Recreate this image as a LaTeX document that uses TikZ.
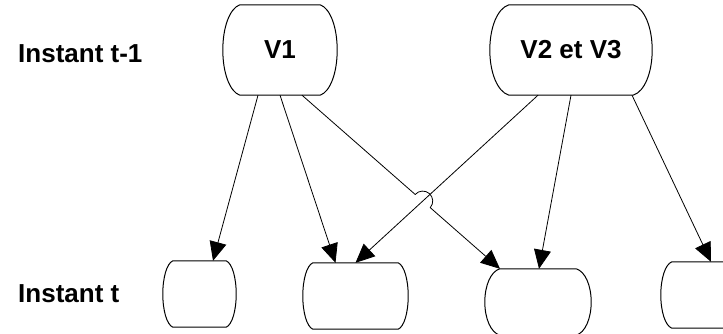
\documentclass[tikz,border=0pt]{standalone}
\usepackage{fontspec}
\setmainfont{Liberation Sans}
\usetikzlibrary{arrows.meta,intersections,calc}

\begin{document}
\begin{tikzpicture}[x=1pt, y=-1pt,
  texte/.style={font=\fontsize{26}{30}\selectfont\bfseries, inner sep=0pt},
  etat/.style={rectangle, inner sep=0pt, font=\fontsize{26}{30}\selectfont\bfseries},
  contour/.style={line width=1pt},
  fleche/.style={-{Triangle[length=19pt,width=17pt]}, line width=0.8pt}]
   \useasboundingbox (0,0) rectangle (723,333);
   \node[texte, anchor=base west] (tm1) at (18,62) {Instant t-1};
   \node[texte, anchor=base west] (t) at (18,302) {Instant t};
   \node[etat, minimum width=114pt, minimum height=90pt] (v1) at (280,50) {V1};
   \node[etat, minimum width=162pt, minimum height=90pt] (v23) at (571,50) {V2 et V3};
   \node[etat, minimum width=73pt, minimum height=66pt] (a) at (199.5,294) {};
   \node[etat, minimum width=105pt, minimum height=66pt] (b) at (355.5,296) {};
   \node[etat, minimum width=106pt, minimum height=66pt] (c) at (538,302) {};
   \node[etat, minimum width=100pt, minimum height=66pt] (d) at (711,295) {};

  % bords arrondis des boites
  \foreach \n/\d/\h in {v1/17pt/90pt, v23/19pt/90pt, a/10pt/66pt, b/10pt/66pt, c/15pt/66pt, d/11pt/66pt}
    \draw[contour] ([xshift=\d]\n.north west) -- ([xshift=-\d]\n.north east)
      .. controls ([xshift=-0.4*\d, yshift=-0.04*\h]\n.north east) and ([yshift=0.25*\h]\n.east) .. (\n.east)
      .. controls ([yshift=-0.25*\h]\n.east) and ([xshift=-0.4*\d, yshift=0.04*\h]\n.south east) .. ([xshift=-\d]\n.south east)
      -- ([xshift=\d]\n.south west)
      .. controls ([xshift=0.4*\d, yshift=0.04*\h]\n.south west) and ([yshift=-0.25*\h]\n.west) .. (\n.west)
      .. controls ([yshift=0.25*\h]\n.west) and ([xshift=0.4*\d, yshift=-0.04*\h]\n.north west) .. cycle;

  \path[fleche]
    ([xshift=-22pt]v1.south) edge ([xshift=13.5pt]a.north)
    (v1.south) edge ([xshift=-20pt]b.north)
    (v23.south) edge ([xshift=1pt]c.north)
    ([xshift=61pt]v23.south) edge (d.north);
  \draw[fleche, name path=l2] ([xshift=-33pt]v23.south) -- (b.north);
  \path[name path=l1] ([xshift=22pt]v1.south) -- ([xshift=-38pt]c.north);
  \path[name intersections={of=l1 and l2, by=X}];
  % saut au croisement
  \draw[fleche] let \p1=([xshift=22pt]v1.south), \p2=([xshift=-38pt]c.north),
      \n1={atan2(\y2-\y1,\x2-\x1)} in
    (\p1) -- ($(X)!10pt!(\p1)$) arc[start angle=\n1+180, end angle=\n1, radius=10pt] -- (\p2);
\end{tikzpicture}
\end{document}
